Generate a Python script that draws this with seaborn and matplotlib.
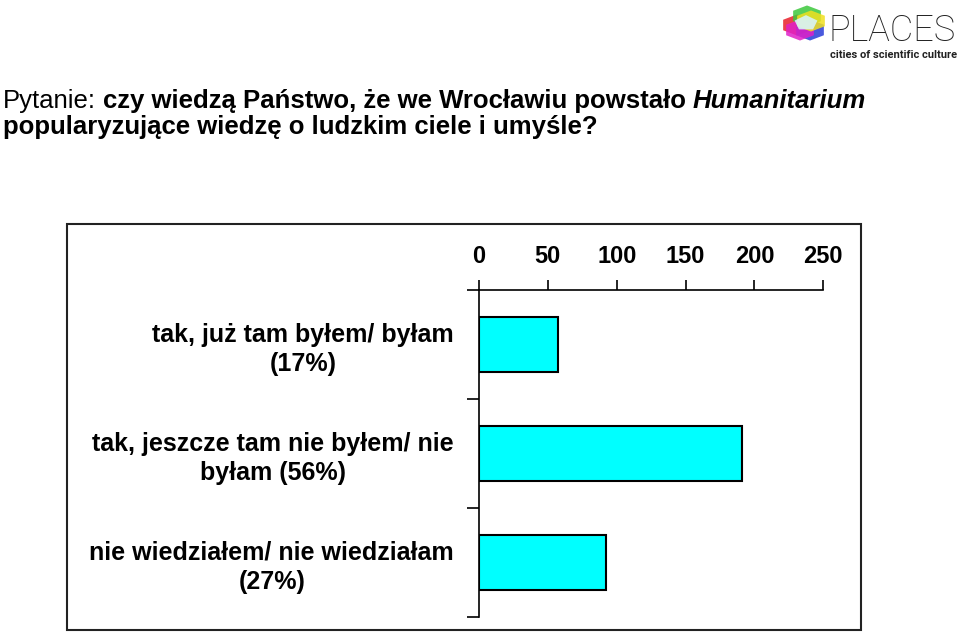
import matplotlib
matplotlib.use("Agg")
import matplotlib.pyplot as plt
from matplotlib.patches import Rectangle, RegularPolygon
import pandas as pd
import seaborn as sns

# survey answers and counts
answers = [
    "tak, już tam byłem/ byłam\n(17%)",
    "tak, jeszcze tam nie byłem/ nie\nbyłam (56%)",
    "nie wiedziałem/ nie wiedziałam\n(27%)",
]
counts = [57, 191, 92]
x_ticks = [0, 50, 100, 150, 200, 250]

title_line1 = [
    ("Pytanie:", "normal", "normal"),
    ("czy wiedzą Państwo, że we Wrocławiu powstało", "bold", "normal"),
    ("Humanitarium", "bold", "italic"),
]
title_line2 = "popularyzujące wiedzę o ludzkim ciele i umyśle?"

W, H = 960, 632


def fx(px):
    return px / W


def fy(py):
    return 1 - py / H


sns.set_theme(style="white")
plt.rcParams["font.family"] = ["Liberation Sans", "DejaVu Sans"]

fig = plt.figure(figsize=(9.6, 6.32), dpi=100)
ax = fig.add_axes([fx(479), fy(617), 344.3 / W, 327 / H])

df = pd.DataFrame({"answer": answers, "count": counts})
sns.barplot(data=df, x="count", y="answer", orient="h", color="#00FFFF",
            saturation=1, edgecolor="black", linewidth=1.5, width=0.5, ax=ax)

ax.set_xlim(0, 250)
ax.set_ylim(2.5, -0.5)
ax.set_xlabel("")
ax.set_ylabel("")

ax.xaxis.tick_top()
ax.set_xticks(x_ticks)
ax.set_xticklabels([str(v) for v in x_ticks], fontsize=17, fontweight="bold",
                   color="black")
ax.tick_params(axis="x", which="major", top=True, bottom=False, direction="out",
               length=7, width=1.2, pad=9, colors="black")

ax.set_yticks([0, 1, 2])
ax.set_yticklabels(answers, fontsize=18, fontweight="bold", color="black",
                   multialignment="center", linespacing=1.28)
ax.tick_params(axis="y", which="major", left=False, length=0, pad=18)
ax.set_yticks([-0.5, 0.5, 1.5, 2.5], minor=True)
ax.tick_params(axis="y", which="minor", left=True, direction="out",
               length=9, width=1.2, color="black")

for side in ["right", "bottom"]:
    ax.spines[side].set_visible(False)
for side in ["left", "top"]:
    ax.spines[side].set_visible(True)
    ax.spines[side].set_color("black")
    ax.spines[side].set_linewidth(1.2)

# frame around the chart
fig.patches.append(Rectangle((fx(67), fy(630)), (860.5 - 67) / W, (630 - 224) / H,
                             transform=fig.transFigure, fill=False,
                             edgecolor="#222222", linewidth=1.5))

# title with mixed styles
renderer = fig.canvas.get_renderer()
x = fx(3)
for text, weight, style in title_line1:
    t = fig.text(x, fy(108), text, fontsize=18.5, fontweight=weight, fontstyle=style,
                 va="baseline", ha="left", color="black")
    bb = t.get_window_extent(renderer)
    x = (bb.x1 + 7) / W
fig.text(fx(3), fy(134), title_line2, fontsize=18.5, fontweight="bold",
         va="baseline", ha="left", color="black")

# logo
cx, cy = 804, 23
for dx, dy, col in [(-7, 2, "#e8202a"), (3, -7, "#3cc83c"), (6, 7, "#2a3cd8"),
                    (-4, 7, "#e020c8"), (7, -2, "#f0e020")]:
    fig.patches.append(RegularPolygon((fx(cx + dx), fy(cy + dy)), 6, radius=16 / W,
                                      transform=fig.transFigure, facecolor=col,
                                      edgecolor="none", alpha=0.85))
fig.patches.append(RegularPolygon((fx(cx + 2), fy(cy)), 5, radius=12 / W,
                                  transform=fig.transFigure, facecolor="#d8f4f8",
                                  edgecolor="none", alpha=0.9))
fig.text(fx(828), fy(41), "PLACES", fontsize=26, fontfamily="Roboto",
         fontweight="light", color="#222222", va="baseline", ha="left")
fig.text(fx(830), fy(58), "cities of scientific culture", fontsize=8,
         fontfamily="Roboto", fontweight="bold", color="#222222",
         va="baseline", ha="left")

fig.savefig("out.png", dpi=100)
